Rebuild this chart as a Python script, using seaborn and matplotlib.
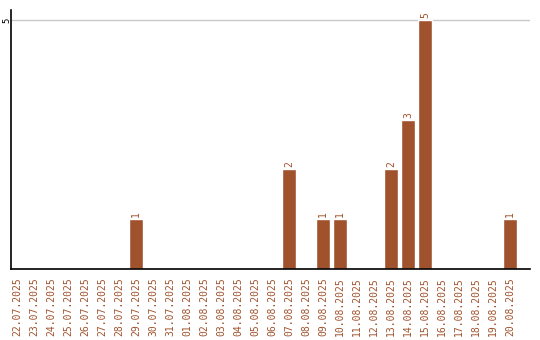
import matplotlib
matplotlib.use("Agg")
import matplotlib.pyplot as plt
import seaborn as sns
import pandas as pd

dates = ["22.07.2025", "23.07.2025", "24.07.2025", "25.07.2025", "26.07.2025",
         "27.07.2025", "28.07.2025", "29.07.2025", "30.07.2025", "31.07.2025",
         "01.08.2025", "02.08.2025", "03.08.2025", "04.08.2025", "05.08.2025",
         "06.08.2025", "07.08.2025", "08.08.2025", "09.08.2025", "10.08.2025",
         "11.08.2025", "12.08.2025", "13.08.2025", "14.08.2025", "15.08.2025",
         "16.08.2025", "17.08.2025", "18.08.2025", "19.08.2025", "20.08.2025"]
counts = [0, 0, 0, 0, 0, 0, 0, 1, 0, 0,
          0, 0, 0, 0, 0, 0, 2, 0, 1, 1,
          0, 0, 2, 3, 5, 0, 0, 0, 0, 1]

sns.set_style("white")
plt.rcParams['font.family'] = ['DejaVu Sans Mono', 'DejaVu Sans']

COLOR = "#A0522D"
df = pd.DataFrame({"date": dates, "count": counts})

fig = plt.figure(figsize=(5.4, 3.4), dpi=100)
ax = fig.add_axes([11/540, 1 - 269/340, 519/540, 259/340])

sns.barplot(data=df, x="date", y="count", color=COLOR, width=0.82,
            saturation=1, ax=ax)

for i, v in enumerate(counts):
    if v > 0:
        ax.text(i, v + 0.04, str(v), rotation=90, ha="center", va="bottom",
                fontsize=7, color=COLOR)

ax.set_xlim(-0.35, 30.18)
ax.set_ylim(0, 5.2)
ax.set_yticks([5])
ax.set_yticklabels(["5"], rotation=90, va="center", fontsize=6.5, color="black")
ax.tick_params(axis="y", length=0, pad=0)
ax.tick_params(axis="x", length=0, pad=6)
ax.set_xticks(range(len(dates)))
ax.set_xticklabels(dates, rotation=90, fontsize=7, color=COLOR)
ax.yaxis.grid(True, color="#c8c8c8", linewidth=1)
ax.set_axisbelow(True)
ax.set_xlabel("")
ax.set_ylabel("")
for s in ["top", "right"]:
    ax.spines[s].set_visible(False)
for s in ["left", "bottom"]:
    ax.spines[s].set_color("black")
    ax.spines[s].set_linewidth(1.2)

fig.savefig("out.png", dpi=100)
